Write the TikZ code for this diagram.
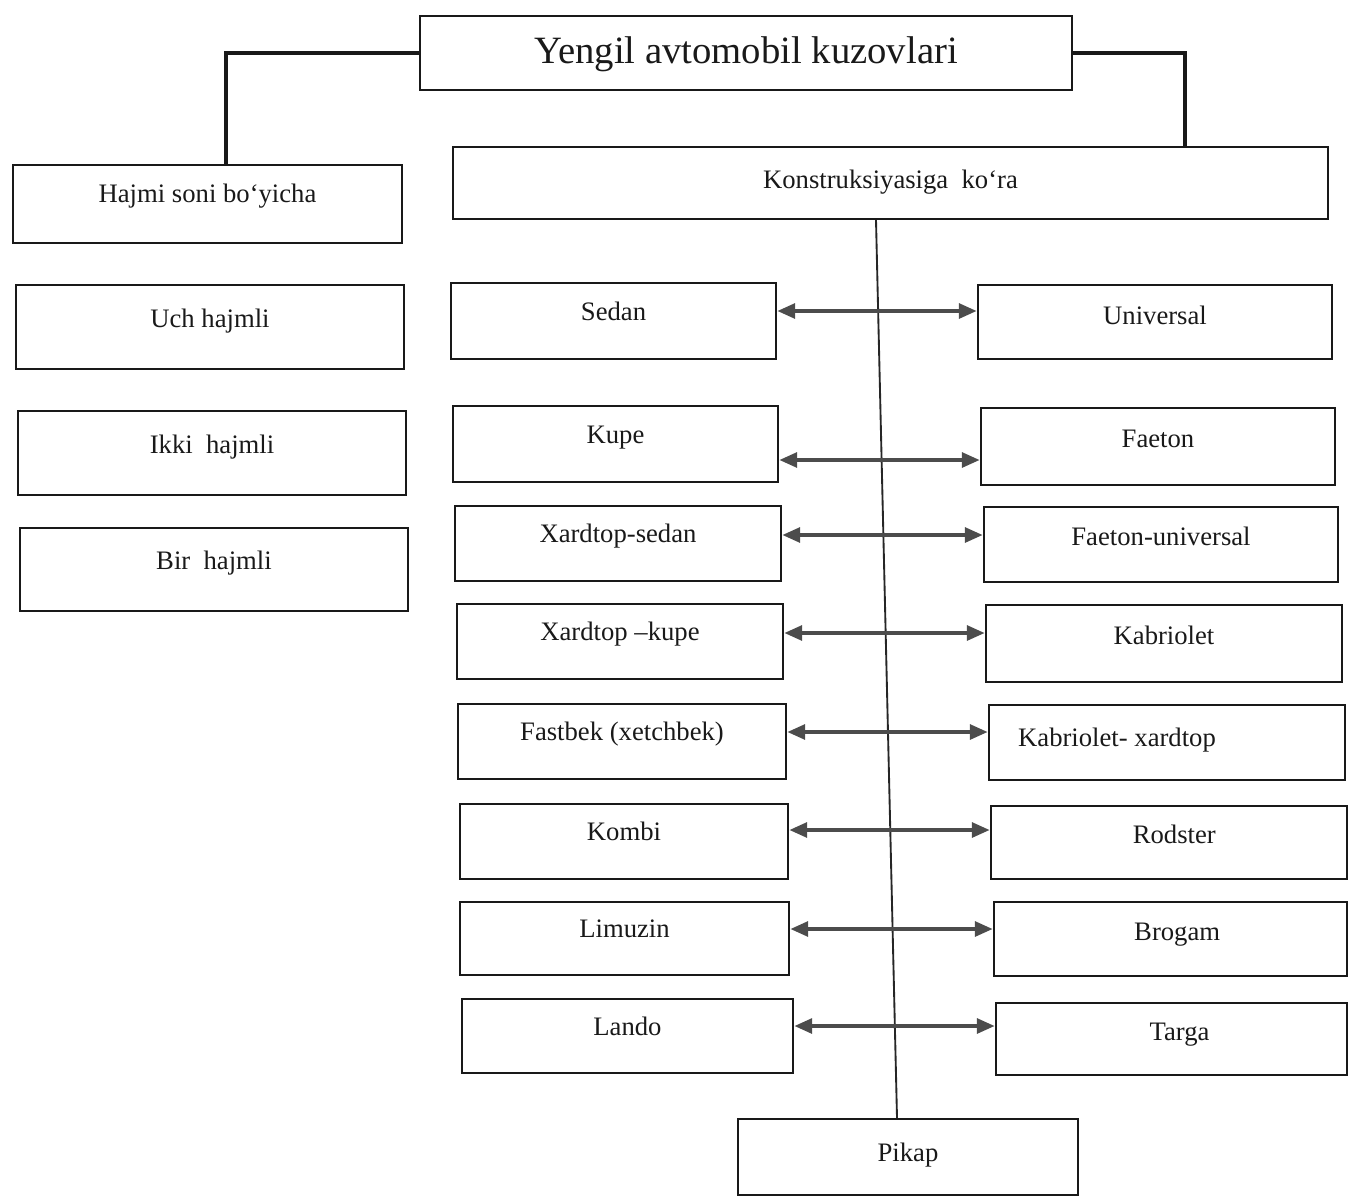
\documentclass[tikz,border=0pt]{standalone}
\usepackage{fontspec}
\setmainfont{Liberation Serif}
\usetikzlibrary{arrows.meta}
\begin{document}
\begin{tikzpicture}[x=0.75pt,y=-0.75pt,
  box/.style={draw=black!90, line width=1.8pt, inner sep=0pt,
    font=\fontsize{20}{24}\selectfont, text=black!90,
    text height=13.5pt, text depth=15pt},
  span/.style n args={4}{at={({(#1+#3)/2},{(#2+#4)/2})},
    minimum width={(#3-#1)*0.75pt}, minimum height={(#4-#2)*0.75pt}},
  lift/.style={text depth=#1},
  trunk/.style={draw=black!90, line width=3pt},
  stem/.style={draw=black!85, line width=1.4pt},
  pair/.style={draw=black!70, line width=3pt,
    {Triangle[length=13.5pt,width=11pt]}-{Triangle[length=13.5pt,width=11pt]}}
]
\useasboundingbox (0,0) rectangle (1348,1198);

% top level
\node[box, span={420}{16}{1072}{90}, font=\fontsize{29}{34}\selectfont,
  text height=19pt, text depth=3pt] (title) {Yengil avtomobil kuzovlari};
\node[box, span={13}{165}{402}{243}] (hajmi) {Hajmi soni bo`yicha};
\node[box, span={453}{147}{1328}{219}, lift=4.5pt] (konst) {Konstruksiyasiga\ \ ko`ra};

% by number of volumes
\node[box, span={16}{285}{404}{369}, lift=13.5pt] (uch) {Uch hajmli};
\node[box, span={18}{411}{406}{495}, lift=13.5pt] (ikki) {Ikki\ \ hajmli};
\node[box, span={20}{528}{408}{611}, lift=13.5pt] (bir) {Bir\ \ hajmli};

% by construction, left column
\node[box, span={451}{283}{776}{359}] (sedan) {Sedan};
\node[box, span={453}{406}{778}{482}] (kupe) {Kupe};
\node[box, span={455}{506}{781}{581}] (xsedan) {Xardtop-sedan};
\node[box, span={457}{604}{783}{679}] (xkupe) {Xardtop –kupe};
\node[box, span={458}{704}{786}{779}] (fastbek) {Fastbek (xetchbek)};
\node[box, span={460}{804}{788}{879}] (kombi) {Kombi};
\node[box, span={460}{902}{789}{975}] (limuzin) {Limuzin};
\node[box, span={462}{999}{793}{1073}] (lando) {Lando};

% by construction, right column
\node[box, span={978}{285}{1332}{359}, lift=10.5pt] (universal) {Universal};
\node[box, span={981}{408}{1335}{485}, lift=12pt] (faeton) {Faeton};
\node[box, span={984}{507}{1338}{582}, lift=12pt] (funiv) {Faeton-universal};
\node[box, span={986}{605}{1342}{682}, lift=12pt] (kabrio) {Kabriolet};
\node[box, span={989}{705}{1345}{780}, lift=7.5pt] (kxard) {Kabriolet- xardtop\hspace*{75pt}};
\node[box, span={991}{806}{1347}{879}, lift=12pt] (rodster) {\hspace*{8pt}Rodster};
\node[box, span={994}{902}{1347}{976}, lift=12pt] (brogam) {\hspace*{10pt}Brogam};
\node[box, span={996}{1003}{1347}{1075}, lift=12pt] (targa) {\hspace*{12pt}Targa};

\node[box, span={738}{1119}{1078}{1195}, lift=7.5pt] (pikap) {Pikap};

% links from the title
\draw[trunk] (title.west) -| (hajmi.north -| 226,0);
\draw[trunk] (title.east) -| (konst.north -| 1185,0);

% central stem
\draw[stem] (konst.south -| 876,0) -- (pikap.north -| 897,0);

% paired body types
\draw[pair] (sedan.east |- 0,311) -- (universal.west |- 0,311);
\draw[pair] (kupe.east |- 0,460) -- (faeton.west |- 0,460);
\draw[pair] (xsedan.east |- 0,535) -- (funiv.west |- 0,535);
\draw[pair] (xkupe.east |- 0,633) -- (kabrio.west |- 0,633);
\draw[pair] (fastbek.east |- 0,732) -- (kxard.west |- 0,732);
\draw[pair] (kombi.east |- 0,830) -- (rodster.west |- 0,830);
\draw[pair] (limuzin.east |- 0,929) -- (brogam.west |- 0,929);
\draw[pair] (lando.east |- 0,1026) -- (targa.west |- 0,1026);
\end{tikzpicture}
\end{document}
